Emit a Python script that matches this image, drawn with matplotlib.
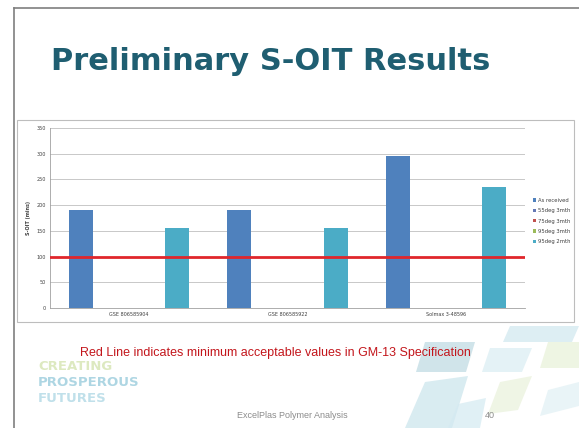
import matplotlib
matplotlib.use("Agg")
import matplotlib.pyplot as plt
import numpy as np
from matplotlib.patches import Polygon, Rectangle

W, H = 579, 428

categories = ["GSE 806585904", "GSE 806585922", "Solmax 3-48596"]
series_names = ["As received", "55deg 3mth", "75deg 3mth", "95deg 3mth", "95deg 2mth"]
series_values = [
    [190, 190, 296],          # As received
    [np.nan, np.nan, np.nan], # 55deg 3mth
    [np.nan, np.nan, np.nan], # 75deg 3mth
    [np.nan, np.nan, np.nan], # 95deg 3mth
    [155, 155, 235],          # 95deg 2mth
]
series_colors = ["#4F81BD", "#6478B4", "#C0504D", "#9BBB59", "#4BACC6"]
min_spec = 100
yticks = [0, 50, 100, 150, 200, 250, 300, 350]

fig = plt.figure(figsize=(W / 100, H / 100), dpi=100)
fig.patch.set_facecolor("white")

def fx(x):
    return x / W

def fy(y):
    return 1 - y / H

# background decorative shapes (bottom right)
bg = fig.add_axes([0, 0, 1, 1], zorder=-5)
bg.set_xlim(0, W)
bg.set_ylim(H, 0)
bg.axis("off")
shapes = [
    ([(510, 326), (579, 326), (572, 342), (503, 342)], "#cfe7ef"),
    ([(425, 342), (475, 342), (466, 372), (416, 372)], "#bcd9e2"),
    ([(490, 348), (532, 348), (522, 372), (482, 372)], "#d9edf3"),
    ([(548, 342), (579, 342), (579, 368), (540, 368)], "#e8f1d8"),
    ([(425, 382), (468, 376), (452, 428), (405, 428)], "#c9e4ec"),
    ([(500, 382), (532, 376), (518, 410), (488, 414)], "#e9f1da"),
    ([(458, 404), (486, 398), (480, 428), (448, 428)], "#d4eaf1"),
    ([(548, 390), (579, 382), (579, 406), (540, 416)], "#e0f0f4"),
]
for pts, c in shapes:
    bg.add_patch(Polygon(pts, closed=True, facecolor=c, edgecolor="none", alpha=0.7))
# slide border
bg.plot([14, 14], [8, H], color="#7f7f7f", lw=1.2)
bg.plot([14, W], [8, 8], color="#7f7f7f", lw=1.2)
# chart box
bg.add_patch(Rectangle((17, 120), 557, 202, facecolor="white", edgecolor="#bdbdbd", lw=0.8, zorder=1))

# title
fig.text(fx(271), fy(62), "Preliminary S-OIT Results", ha="center", va="center",
         fontsize=22, fontweight="bold", color="#1F5E71", family="DejaVu Sans")

# chart axes
ax = fig.add_axes([fx(50), fy(308), fx(525) - fx(50), fy(128) - fy(308)])
ax.set_facecolor("white")
x = np.arange(len(categories))
bw = 0.152
for i, (name, vals, col) in enumerate(zip(series_names, series_values, series_colors)):
    ax.bar(x + (i - 2) * bw, vals, width=bw, color=col, label=name, zorder=3)
ax.axhline(min_spec, color="#E0262B", lw=2.0, zorder=4)
ax.set_xlim(-0.5, 2.5)
ax.set_ylim(0, 350)
ax.set_yticks(yticks)
ax.set_yticklabels([str(t) for t in yticks], fontsize=3.5, color="#404040")
ax.set_xticks(x)
ax.set_xticklabels(categories, fontsize=3.5, color="#404040")
ax.tick_params(length=0, pad=3)
ax.yaxis.grid(True, color="#c8c8c8", lw=0.7, zorder=0)
for s in ["top", "right"]:
    ax.spines[s].set_visible(False)
for s in ["left", "bottom"]:
    ax.spines[s].set_color("#a0a0a0")
    ax.spines[s].set_linewidth(0.6)
ax.set_ylabel("S-OIT (mins)", fontsize=3.5, fontweight="bold", color="#404040", labelpad=4)

handles, labels = ax.get_legend_handles_labels()
leg = fig.legend(handles, labels, loc="center left", bbox_to_anchor=(fx(530), fy(221)),
                 fontsize=3.8, frameon=False, handlelength=0.6, handleheight=0.6,
                 labelspacing=1.0, handletextpad=0.4, borderpad=0)
for t in leg.get_texts():
    t.set_color("#404040")

# caption
fig.text(fx(275), fy(353), "Red Line indicates minimum acceptable values in GM-13 Specification",
         ha="center", va="center", fontsize=9, color="#C3161C", family="Liberation Sans")

# logo text
fig.text(fx(38), fy(367), "CREATING", ha="left", va="center", fontsize=9.5, fontweight="bold",
         color="#dde9c0", family="DejaVu Sans")
fig.text(fx(38), fy(383), "PROSPEROUS", ha="left", va="center", fontsize=9.5, fontweight="bold",
         color="#aed6e3", family="DejaVu Sans")
fig.text(fx(38), fy(399), "FUTURES", ha="left", va="center", fontsize=9.5, fontweight="bold",
         color="#c0e0ea", family="DejaVu Sans")

# footer
fig.text(fx(292), fy(415), "ExcelPlas Polymer Analysis", ha="center", va="center",
         fontsize=6.5, color="#8c8c8c", family="Liberation Sans")
fig.text(fx(490), fy(415), "40", ha="center", va="center", fontsize=6.5, color="#8c8c8c",
         family="Liberation Sans")

fig.savefig("out.png", dpi=100)
